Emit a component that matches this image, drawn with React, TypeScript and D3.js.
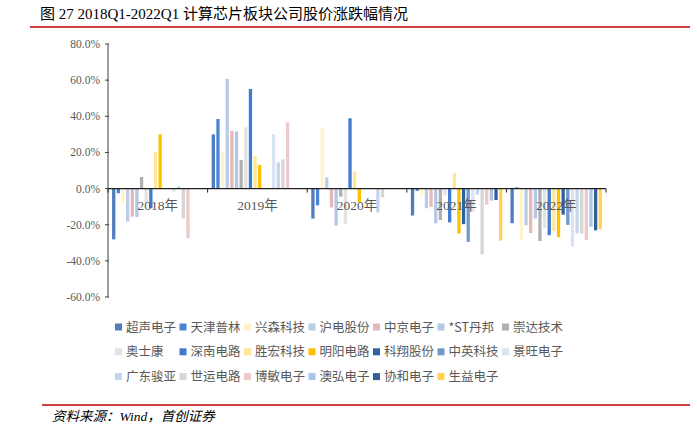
import React from 'react';
import { scaleBand, scaleLinear, range } from 'd3';

const width = 697;
const height = 429;

const years = ['2018年', '2019年', '2020年', '2021年', '2022年'];
const companies = [
  '超声电子', '天津普林', '兴森科技', '沪电股份', '中京电子', '*ST丹邦', '崇达技术',
  '奥士康', '深南电路', '胜宏科技', '明阳电路', '科翔股份', '中英科技', '景旺电子',
  '广东骏亚', '世运电路', '博敏电子', '澳弘电子', '协和电子', '生益电子',
];
const colors = [
  '#4f7dbd', '#4a86d2', '#fff2cc', '#b9cde6', '#e6b8b7', '#b4c7e7', '#b0b0b0',
  '#e2e2e2', '#3d7ccf', '#ffe699', '#ffc000', '#2f62a3', '#7098c9', '#d8e4f4',
  '#c6d4eb', '#d6d6d6', '#edc9c9', '#a9c5eb', '#355f96', '#ffd34f',
];
// values per company, in order of years (percent)
const v2018 = [-28.1, -2.6, -8.1, -18.3, -15.5, -15.7, 6.4, -8.0, -10.9, 20.3, 30.0, 0, 0, -1.7, 1.3, -16.5, -27.5, 0, 0, 0];
const v2019 = [30.0, 38.5, 20.4, 60.7, 31.9, 31.5, 15.8, 33.9, 55.1, 17.9, 13.1, 0, 0, 30.2, 14.5, 16.2, 36.7, 0, 0, 0];
const v2020 = [-16.6, -9.3, 33.6, 6.2, -10.4, -20.5, -4.5, -19.8, 38.9, 9.5, -7.6, 0, 0, 0, -13.2, -4.8, 0, 0, 0, 0];
const v2021 = [-14.9, -1.3, -3.5, -10.9, -10.1, -19.2, -17.4, -3.7, -18.7, 8.5, -24.9, -19.7, -29.5, -12.9, -3.3, -36.5, -8.9, -6.7, -6.3, -28.8];
const v2022 = [-19.2, 0.7, -28.4, -20.3, -24.6, -16.5, -29.0, -21.8, -25.8, -23.6, -26.9, -14.4, -20.1, -32.0, -24.8, -24.8, -28.5, -21.1, -23.1, -22.5];
const values = [v2018, v2019, v2020, v2021, v2022];
const yTicks = [-60, -40, -20, 0, 20, 40, 60, 80];

const plotLeft = 108;
const plotRight = 606;
const y = scaleLinear().domain([-60, 80]).range([297, 44]);
const x = scaleBand().domain(years).range([plotLeft, plotRight]);
const inner = scaleBand()
  .domain(companies)
  .range([3.4, x.bandwidth() - 3.4])
  .paddingInner(0.29)
  .paddingOuter(0.145);

const legendRows = [companies.slice(0, 7), companies.slice(7, 14), companies.slice(14)];

const App = () => {
  const zeroY = y(0);
  return (
    <svg width={width} height={height} style={{ position: 'absolute', left: 0, top: 0, background: '#fff' }}>
      <text x={40} y={19} fontSize={15} fontFamily="'Liberation Serif', 'Noto Sans CJK SC', serif" fill="#000">
        图 27 2018Q1-2022Q1 计算芯片板块公司股价涨跌幅情况
      </text>
      <line x1={30} x2={690} y1={27} y2={27} stroke="#c00000" strokeWidth={1.5} />

      {/* bars */}
      {years.map((yr, yi) => (
        <g key={yr} transform={`translate(${x(yr)},0)`}>
          {companies.map((c, ci) => {
            const v = values[yi][ci];
            if (v === 0) return null;
            const y0 = y(Math.max(0, v));
            const y1 = y(Math.min(0, v));
            return (
              <rect key={c} x={inner(c)} y={y0} width={inner.bandwidth()} height={y1 - y0} fill={colors[ci]} />
            );
          })}
        </g>
      ))}

      {/* y axis */}
      <line x1={plotLeft} x2={plotLeft} y1={y(80)} y2={y(-60)} stroke="#404040" strokeWidth={1} />
      {yTicks.map((t) => (
        <g key={t}>
          <line x1={plotLeft - 3} x2={plotLeft + 1} y1={y(t)} y2={y(t)} stroke="#404040" />
          <text
            x={plotLeft - 8}
            y={y(t) + 4}
            textAnchor="end"
            fontSize={11.5}
            fontFamily="'Liberation Serif', serif"
            fill="#595959"
          >
            {t.toFixed(1)}%
          </text>
        </g>
      ))}

      {/* zero axis */}
      <line x1={plotLeft} x2={plotRight} y1={zeroY} y2={zeroY} stroke="#202020" strokeWidth={1.2} />
      {range(years.length + 1).map((i) => {
        const xx = plotLeft + i * x.step();
        return <line key={i} x1={xx} x2={xx} y1={zeroY} y2={zeroY + 4} stroke="#202020" />;
      })}
      {years.map((yr) => (
        <text
          key={yr}
          x={(x(yr) as number) + x.bandwidth() / 2}
          y={zeroY + 21}
          textAnchor="middle"
          fontSize={13.5}
          fontFamily="'Liberation Serif', 'Noto Sans CJK SC', serif"
          fill="#595959"
        >
          {yr}
        </text>
      ))}

      {/* legend */}
      {legendRows.map((row, ri) =>
        row.map((c, k) => {
          const ci = ri * 7 + k;
          const lx = 115 + k * 64.5;
          const ly = 327 + ri * 24.8;
          return (
            <g key={c}>
              <rect x={lx} y={ly - 3.5} width={7} height={7} fill={colors[ci]} />
              <text
                x={lx + 11}
                y={ly + 4.5}
                fontSize={12.5}
                fontFamily="'Noto Sans CJK SC', sans-serif"
                fill="#595959"
              >
                {c}
              </text>
            </g>
          );
        })
      )}

      <line x1={42} x2={690} y1={405} y2={405} stroke="#c00000" strokeWidth={1.5} />
      <text
        x={52}
        y={421}
        fontSize={13.5}
        fontStyle="italic"
        fontFamily="'Liberation Serif', 'Noto Sans CJK SC', serif"
        fill="#000"
      >
        资料来源：Wind，首创证券
      </text>
    </svg>
  );
};

export default App;
